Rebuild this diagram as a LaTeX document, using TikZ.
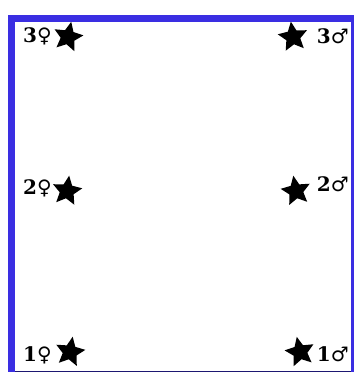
\documentclass[tikz,border=0pt]{standalone}
\usepackage{fontspec}
\setmainfont{DejaVu Serif}
\newfontfamily\sexfont{DejaVu Sans}
\usetikzlibrary{shapes.geometric}
\definecolor{framecol}{RGB}{58,46,226}

\begin{document}
\begin{tikzpicture}[
    x=1pt, y=-1pt,
    bird/.style={
        star, star points=5, star point ratio=2.1,
        fill=black, draw=none, minimum size=31pt, inner sep=0pt,
    },
    tag/.style={
        font=\fontsize{20}{20}\selectfont, inner sep=0pt,
    },
]
\useasboundingbox (0,0) rectangle (356,374);

% --- Frame ---
\fill[framecol] (8,15) rectangle (354,372);
\fill[white] (15,22) rectangle (351,371);
\draw[framecol!50!black, line width=0.8pt] (15,371.4) -- (351,371.4);

% --- Females (left) ---
\node[tag, anchor=west] (f3) at (23,36) {\textbf{3}{\sexfont ♀}};
\node[bird, rotate=-12] (s3f) at (68,37) {};
\node[tag, anchor=west] (f2) at (23,188) {\textbf{2}{\sexfont ♀}};
\node[bird, rotate=-8] (s2f) at (67,191) {};
\node[tag, anchor=west] (f1) at (23,355) {\textbf{1}{\sexfont ♀}};
\node[bird, rotate=-10] (s1f) at (70,352) {};

% --- Males (right) ---
\node[tag, anchor=east] (m3) at (349,36) {\textbf{3}{\sexfont ♂}};
\node[bird, rotate=8] (s3m) at (293,37) {};
\node[tag, anchor=east] (m2) at (349,184) {\textbf{2}{\sexfont ♂}};
\node[bird, rotate=10] (s2m) at (296,191) {};
\node[tag, anchor=east] (m1) at (349,354) {\textbf{1}{\sexfont ♂}};
\node[bird, rotate=12] (s1m) at (300,352) {};

\end{tikzpicture}
\end{document}
